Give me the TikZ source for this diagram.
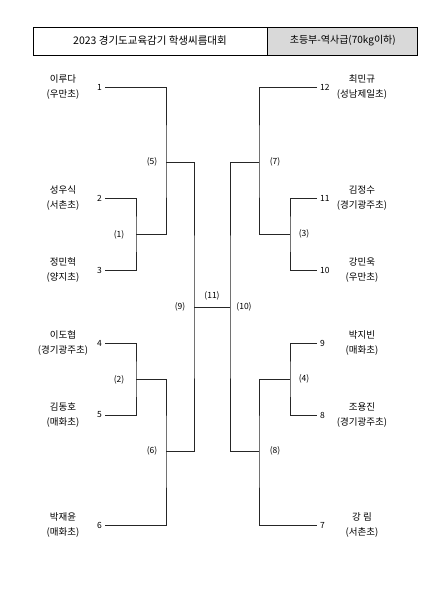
\documentclass[tikz,border=0pt]{standalone}
\usepackage{fontspec}
\setmainfont{Noto Sans CJK KR}
\usetikzlibrary{positioning}

\begin{document}
\begin{tikzpicture}[x=1pt, y=-1pt,
        bline/.style={draw=black!85, line width=0.7pt},
        num/.style={font=\fontsize{8.5}{9}\selectfont, inner sep=3pt},
        player/.style={font=\fontsize{9.5}{15}\selectfont, align=center},
        mlabel/.style={font=\fontsize{8.5}{9}\selectfont},
        head/.style={draw=black, line width=0.8pt, minimum height=28, inner sep=0pt},
    ]
    \useasboundingbox (0,0) rectangle (424,600);

    % title
    \node[head, minimum width=234, font=\fontsize{10.5}{12}\selectfont] (title) at (150,41) {2023 경기도교육감기 학생씨름대회};
    \node[head, minimum width=150, anchor=west, fill=black!15, font=\fontsize{10}{12}\selectfont] (class) at (title.east) {초등부-역사급(70kg이하)};

    % left side
    \node[num, anchor=east] (p1) at (105,87) {1};
    \node[num, anchor=east] (p2) at (105,198) {2};
    \node[num, anchor=east] (p3) at (105,270) {3};
    \node[num, anchor=east] (p4) at (105,343) {4};
    \node[num, anchor=east] (p5) at (105,415) {5};
    \node[num, anchor=east] (p6) at (105,525) {6};
    \node[player] (n1) at (63,87) {이루다\\(우만초)};
    \node[player] (n2) at (63,198) {성우식\\(서촌초)};
    \node[player] (n3) at (63,270) {정민혁\\(양지초)};
    \node[player] (n4) at (63,343) {이도협\\(경기광주초)};
    \node[player] (n5) at (63,415) {김동호\\(매화초)};
    \node[player] (n6) at (63,525) {박재윤\\(매화초)};

    % right side
    \node[num, anchor=west] (p12) at (317,87) {12};
    \node[num, anchor=west] (p11) at (317,198) {11};
    \node[num, anchor=west] (p10) at (317,270) {10};
    \node[num, anchor=west] (p9) at (317,343) {9};
    \node[num, anchor=west] (p8) at (317,415) {8};
    \node[num, anchor=west] (p7) at (317,525) {7};
    \node[player] (n12) at (362,87) {최민규\\(성남제일초)};
    \node[player] (n11) at (362,198) {김정수\\(경기광주초)};
    \node[player] (n10) at (362,270) {강민욱\\(우만초)};
    \node[player] (n9) at (362,343) {박지빈\\(매화초)};
    \node[player] (n8) at (362,415) {조용진\\(경기광주초)};
    \node[player] (n7) at (362,525) {강 림\\(서촌초)};

    % match points
    \coordinate (m1) at (136,234);
    \coordinate (m2) at (136,379);
    \coordinate (m5) at (166,162);
    \coordinate (m6) at (166,451);
    \coordinate (m9) at (194,307);
    \coordinate (m10) at (230,307);
    \coordinate (m7) at (259,162);
    \coordinate (m8) at (259,451);
    \coordinate (m3) at (290,234);
    \coordinate (m4) at (290,379);

    \draw[bline] (p2.east) -| (m1) |- (p3.east);
    \draw[bline] (p4.east) -| (m2) |- (p5.east);
    \draw[bline] (p1.east) -| (m5) |- (m1);
    \draw[bline] (m2) -| (m6) |- (p6.east);
    \draw[bline] (m5) -| (m9) |- (m6);
    \draw[bline] (m9) -- (m10);
    \draw[bline] (m7) -| (m10) |- (m8);
    \draw[bline] (p12.west) -| (m7) |- (m3);
    \draw[bline] (m4) -| (m8) |- (p7.west);
    \draw[bline] (p11.west) -| (m3) |- (p10.west);
    \draw[bline] (p9.west) -| (m4) |- (p8.west);

    % match labels
    \node[mlabel] (l1) at (119,235) {(1)};
    \node[mlabel] (l2) at (119,380) {(2)};
    \node[mlabel] (l5) at (152,162) {(5)};
    \node[mlabel] (l6) at (152,451) {(6)};
    \node[mlabel] (l9) at (180,307) {(9)};
    \node[mlabel] (l11) at (212,296) {(11)};
    \node[mlabel] (l10) at (244,307) {(10)};
    \node[mlabel] (l7) at (275,162) {(7)};
    \node[mlabel] (l8) at (275,451) {(8)};
    \node[mlabel] (l3) at (304,234) {(3)};
    \node[mlabel] (l4) at (304,379) {(4)};
\end{tikzpicture}
\end{document}
